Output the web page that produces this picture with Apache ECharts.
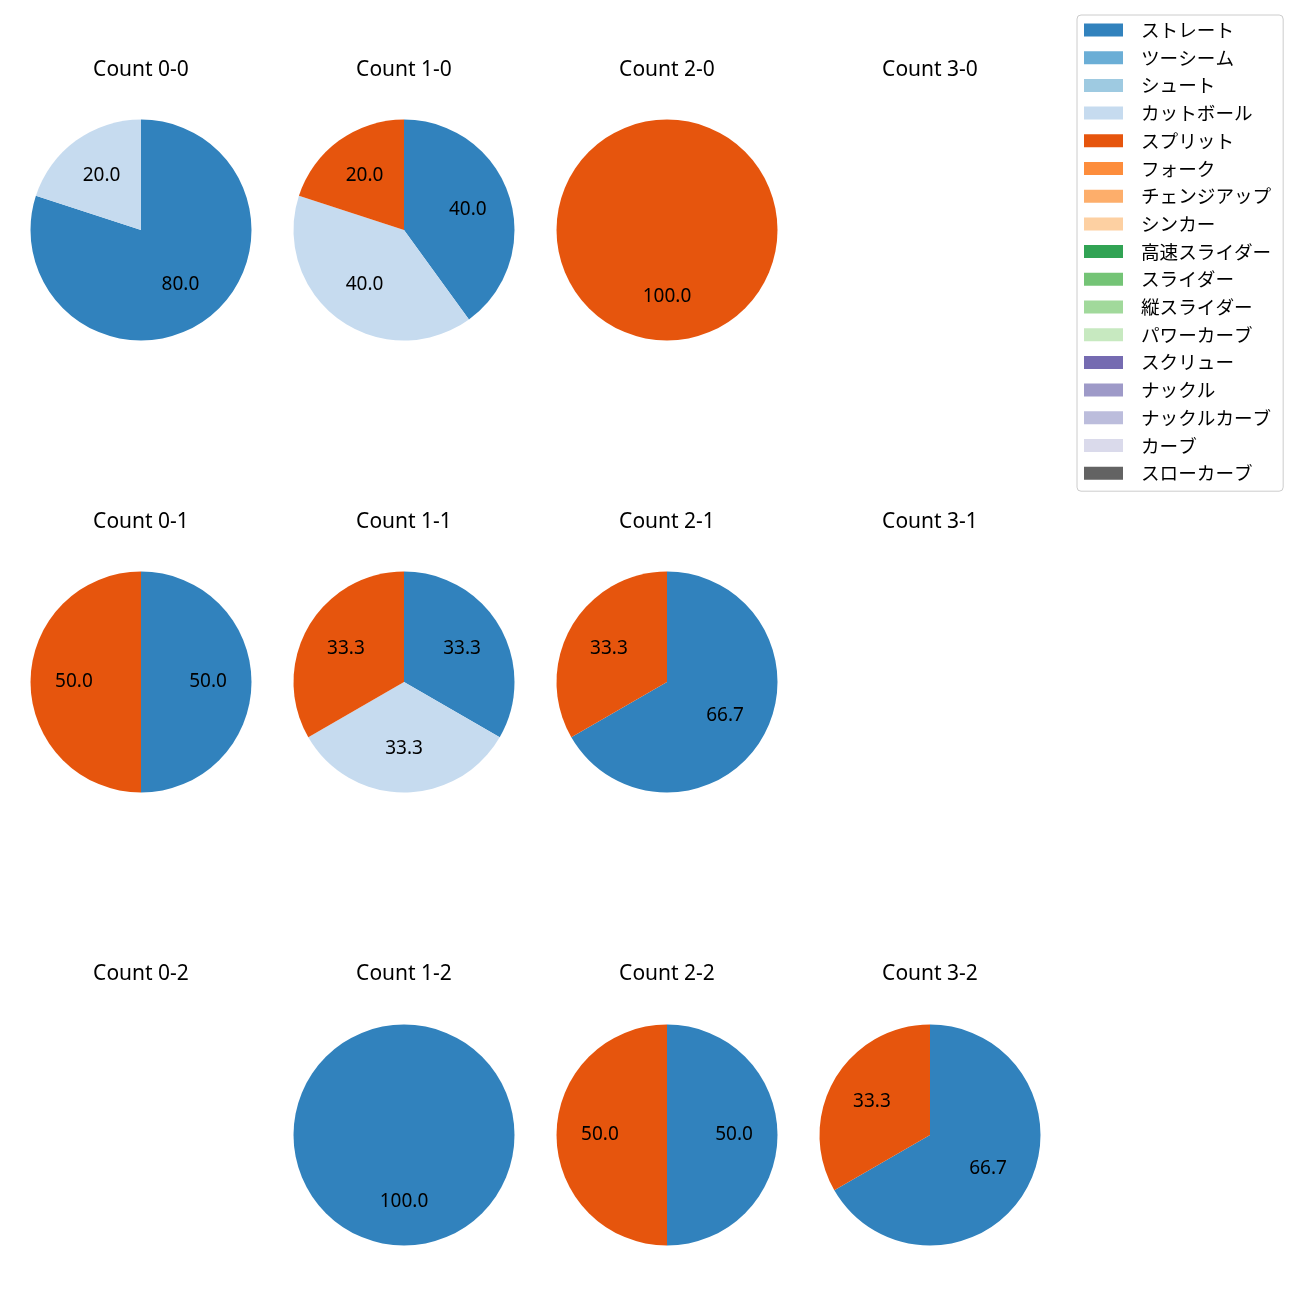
<!DOCTYPE html>
<html>
<head>
<meta charset="utf-8">
<script src="https://cdn.jsdelivr.net/npm/echarts@6/dist/echarts.min.js"></script>
<style>html,body{margin:0;padding:0;background:#fff;}#chart{width:1300px;height:1300px;}</style>
</head>
<body>
<div id="chart"></div>
<script>
// Pitch types (legend order)
const pitchTypes = ['ストレート','ツーシーム','シュート','カットボール','スプリット','フォーク','チェンジアップ','シンカー','高速スライダー','スライダー','縦スライダー','パワーカーブ','スクリュー','ナックル','ナックルカーブ','カーブ','スローカーブ'];
const pitchColors = ['#3182bd','#6baed6','#9ecae1','#c6dbef','#e6550d','#fd8d3c','#fdae6b','#fdd0a2','#31a354','#74c476','#a1d99b','#c7e9c0','#756bb1','#9e9ac8','#bcbddc','#dadaeb','#636363'];

// Subplot titles, row by row
const countTitles = [
  ['Count 0-0','Count 1-0','Count 2-0','Count 3-0'],
  ['Count 0-1','Count 1-1','Count 2-1','Count 3-1'],
  ['Count 0-2','Count 1-2','Count 2-2','Count 3-2']
];

// Pitch counts per ball-strike count, in pitchTypes order
//                 Str Two Sht Cut Spl For Chg Snk HSl Sld VSl PCv Scr Knu KCv Cur SCv
const count00 = [  4,  0,  0,  1,  0,  0,  0,  0,  0,  0,  0,  0,  0,  0,  0,  0,  0];
const count10 = [  2,  0,  0,  2,  1,  0,  0,  0,  0,  0,  0,  0,  0,  0,  0,  0,  0];
const count20 = [  0,  0,  0,  0,  1,  0,  0,  0,  0,  0,  0,  0,  0,  0,  0,  0,  0];
const count30 = [  0,  0,  0,  0,  0,  0,  0,  0,  0,  0,  0,  0,  0,  0,  0,  0,  0];
const count01 = [  1,  0,  0,  0,  1,  0,  0,  0,  0,  0,  0,  0,  0,  0,  0,  0,  0];
const count11 = [  1,  0,  0,  1,  1,  0,  0,  0,  0,  0,  0,  0,  0,  0,  0,  0,  0];
const count21 = [  2,  0,  0,  0,  1,  0,  0,  0,  0,  0,  0,  0,  0,  0,  0,  0,  0];
const count31 = [  0,  0,  0,  0,  0,  0,  0,  0,  0,  0,  0,  0,  0,  0,  0,  0,  0];
const count02 = [  0,  0,  0,  0,  0,  0,  0,  0,  0,  0,  0,  0,  0,  0,  0,  0,  0];
const count12 = [  1,  0,  0,  0,  0,  0,  0,  0,  0,  0,  0,  0,  0,  0,  0,  0,  0];
const count22 = [  1,  0,  0,  0,  1,  0,  0,  0,  0,  0,  0,  0,  0,  0,  0,  0,  0];
const count32 = [  2,  0,  0,  0,  1,  0,  0,  0,  0,  0,  0,  0,  0,  0,  0,  0,  0];

const grid = [
  [count00, count10, count20, count30],
  [count01, count11, count21, count31],
  [count02, count12, count22, count32]
];

const colX = [141, 404, 667, 930];
const rowY = [230, 682, 1135];
const titleY = [70.5, 522.5, 974.5];
const R = 110.5;
const CJK = '"Noto Sans CJK JP", sans-serif';
const LATIN = '"Noto Sans", "Noto Sans CJK JP", sans-serif';

const series = [];
const graphics = [];

grid.forEach((row, ri) => {
  row.forEach((vals, ci) => {
    graphics.push({
      type: 'text', x: colX[ci], y: titleY[ri],
      style: { text: countTitles[ri][ci], font: '21px ' + LATIN, fill: '#000', align: 'center', verticalAlign: 'middle' }
    });
    const total = vals.reduce((a, b) => a + b, 0);
    if (total === 0) return;
    const data = [];
    vals.forEach((v, k) => {
      if (v > 0) data.push({ name: pitchTypes[k], value: v, itemStyle: { color: pitchColors[k] } });
    });
    const center = [colX[ci], rowY[ri]];
    series.push({
      type: 'pie', center: center, radius: [0, R], startAngle: 90, clockwise: true,
      data: data, label: { show: false }, labelLine: { show: false },
      itemStyle: { borderWidth: 0 }, emphasis: { disabled: true }, silent: true, animation: false
    });
    series.push({
      type: 'pie', center: center, radius: [R * 0.16, R], startAngle: 90, clockwise: true,
      data: data.map(d => ({ name: d.name, value: d.value, itemStyle: { color: 'rgba(0,0,0,0)' } })),
      label: {
        show: true, position: 'inside', color: '#000', fontSize: 19, fontFamily: LATIN,
        formatter: p => (p.value / total * 100).toFixed(1)
      },
      labelLine: { show: false }, itemStyle: { borderWidth: 0 },
      emphasis: { disabled: true }, silent: true, animation: false, legendHoverLink: false
    });
  });
});

// hidden series so every pitch type appears in legend with its colour
series.push({
  type: 'pie', center: [-500, -500], radius: [0, 0], showEmptyCircle: false, stillShowZeroSum: false,
  data: pitchTypes.map((n, k) => ({ name: n, value: 0, itemStyle: { color: pitchColors[k] } })),
  label: { show: false }, labelLine: { show: false }, silent: true, animation: false
});

const chart = echarts.init(document.getElementById('chart'), null, { renderer: 'canvas' });
chart.setOption({
  backgroundColor: '#fff',
  animation: false,
  graphic: graphics,
  legend: {
    data: pitchTypes, orient: 'vertical', left: 1077, top: 15,
    padding: [5, 12, 8, 7], itemWidth: 39, itemHeight: 13, itemGap: 7.7,
    icon: 'rect', backgroundColor: '#fff', borderColor: '#cccccc', borderWidth: 1, borderRadius: 4,
    selectedMode: false,
    textStyle: { fontSize: 18.6, fontFamily: CJK, color: '#000', lineHeight: 20, padding: [0, 0, 0, 13] }
  },
  series: series
});
</script>
</body>
</html>
